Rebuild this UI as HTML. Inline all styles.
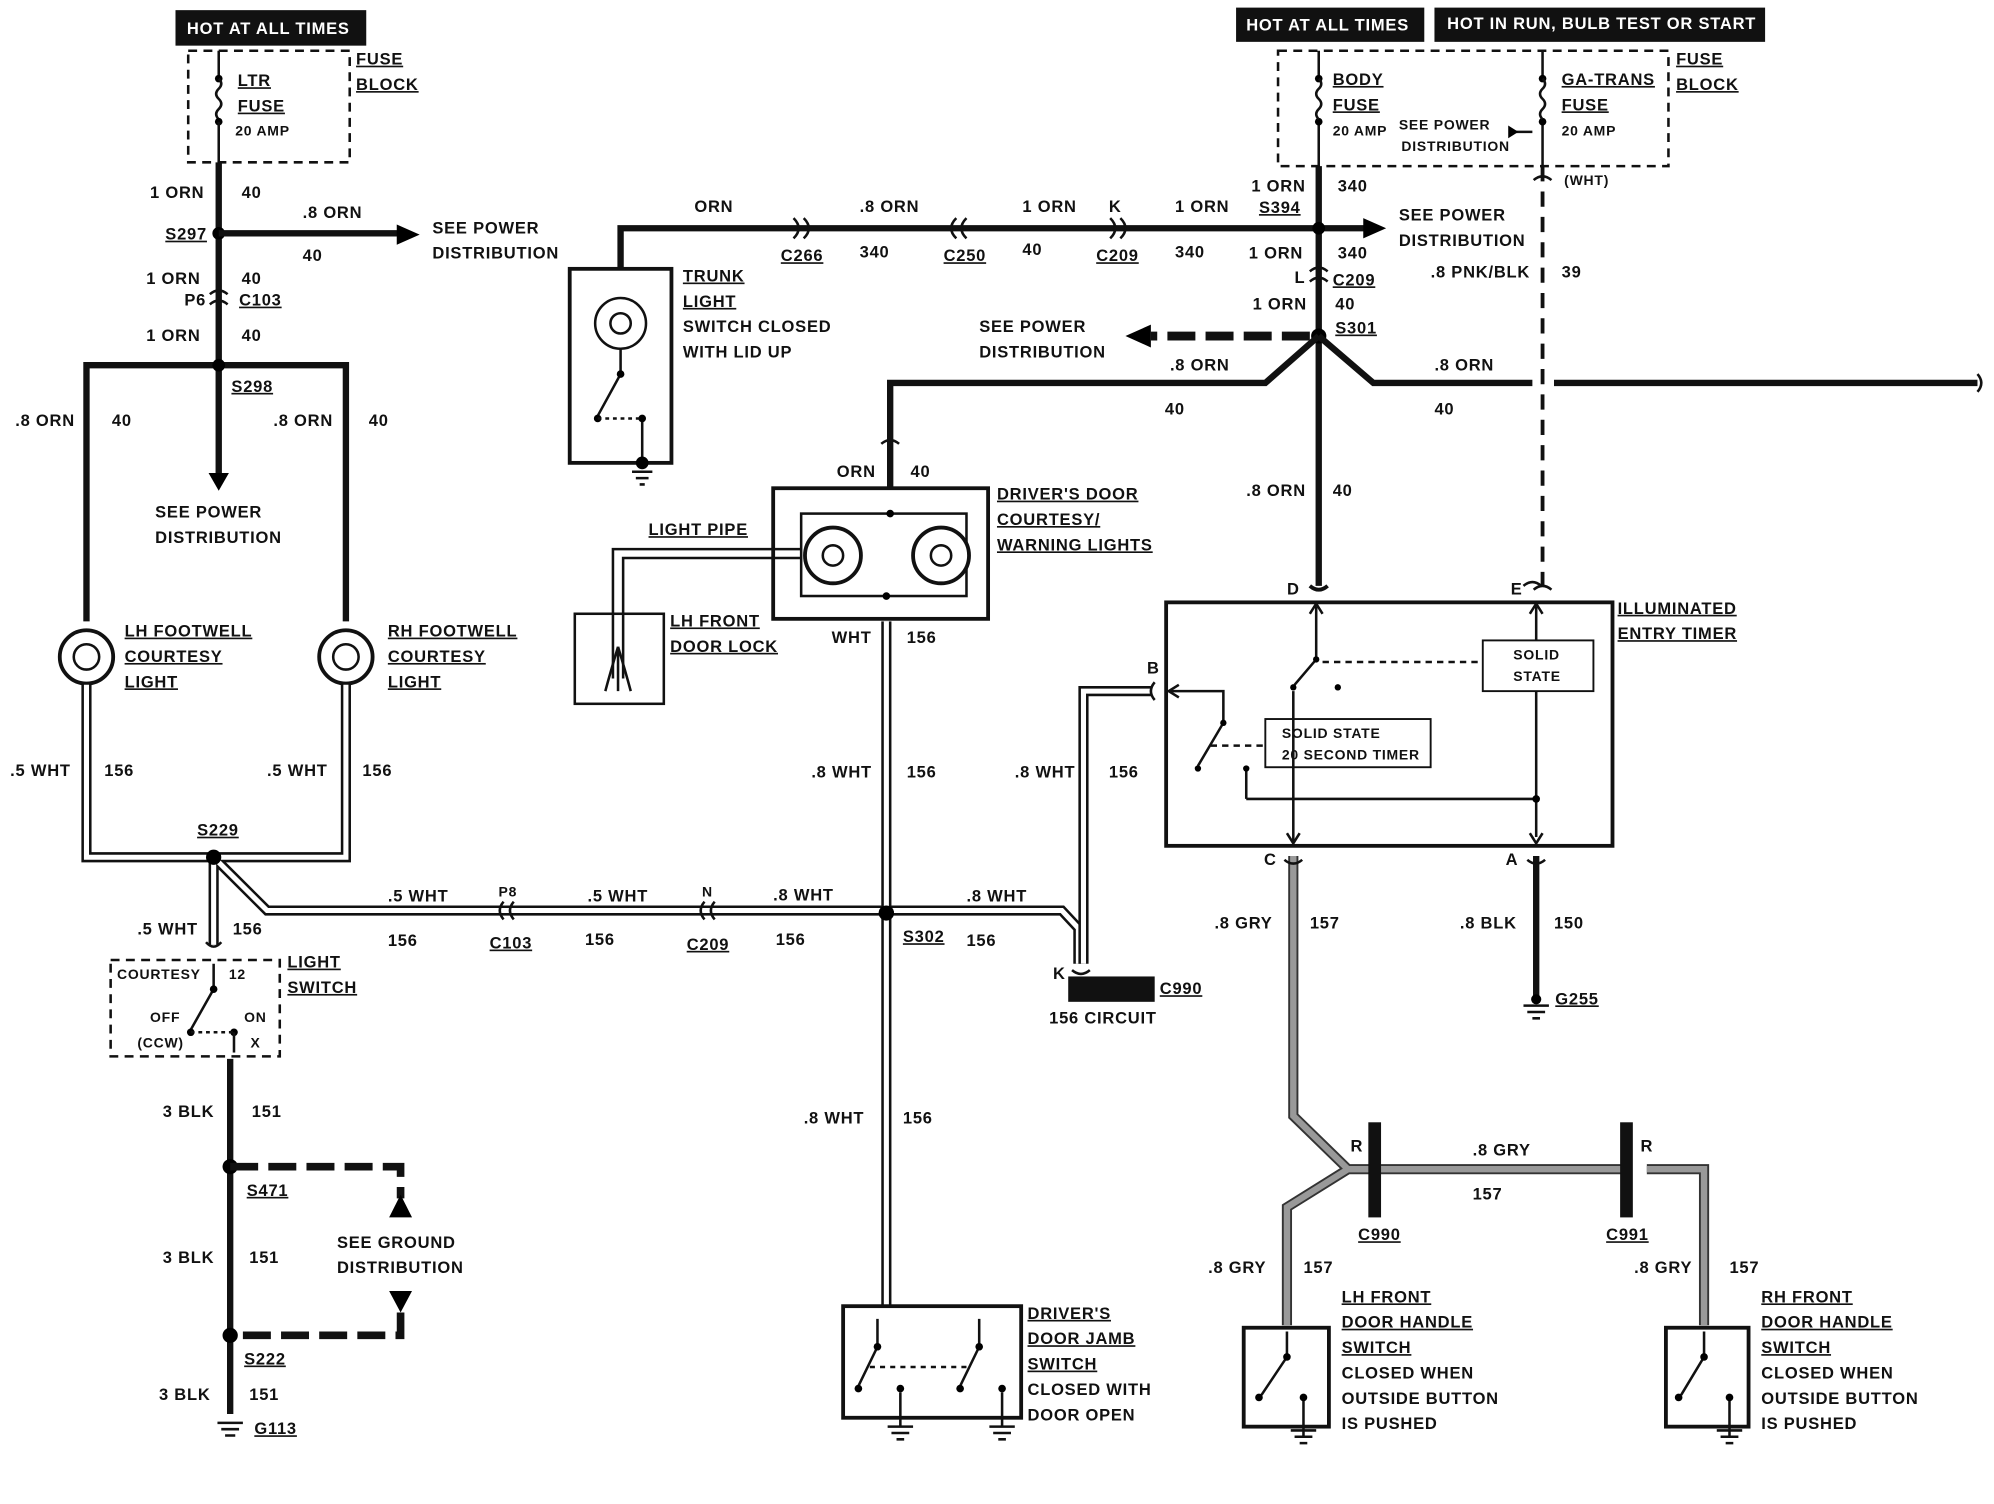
<!DOCTYPE html>
<html><head><meta charset="utf-8">
<style>
html,body{margin:0;padding:0;background:#fff;}
svg{display:block;}
text{font-family:"Liberation Sans",sans-serif;font-weight:bold;font-size:13px;fill:#111;letter-spacing:0.6px;}
.u{text-decoration:underline;}
.k{fill:none;stroke:#111;stroke-width:5;}
.t{fill:none;stroke:#111;stroke-width:2;}
.wb{fill:none;stroke:#111;stroke-width:8;}
.wi{fill:none;stroke:#fff;stroke-width:4;}
.gb{fill:none;stroke:#333;stroke-width:8;}
.gi{fill:none;stroke:#999;stroke-width:5;}
.d{fill:none;stroke:#111;stroke-width:2;stroke-dasharray:7,5;}
.kd{fill:none;stroke:#111;stroke-width:6;stroke-dasharray:22,8;}
.wt{fill:#fff;}
</style></head>
<body>
<svg width="1994" height="1504" viewBox="0 0 1568 1186" preserveAspectRatio="none" xmlns="http://www.w3.org/2000/svg">
<rect width="1568" height="1186" fill="#fff"/>

<!-- LEFT TOP -->
<rect x="138" y="8" width="150" height="28" fill="#111"/>
<text x="147" y="27" class="wt" style="fill:#fff">HOT AT ALL TIMES</text>
<rect x="148" y="40" width="127" height="88" class="d"/>
<text x="280" y="51" class="u">FUSE</text><text x="280" y="71" class="u">BLOCK</text>
<path d="M172 40 V62" class="t"/><circle cx="172" cy="62" r="3"/>
<path d="M172 62 q4 4 0 8 q-4 4 0 8 q4 4 0 8 q-4 4 0 8" class="t"/><circle cx="172" cy="96" r="3"/>
<path d="M172 96 V128" class="t"/>
<text x="187" y="68" class="u">LTR</text><text x="187" y="88" class="u">FUSE</text><text x="185" y="107" style="font-size:11px">20 AMP</text>
<path d="M172 128 V375" class="k"/><path d="M164 373 L180 373 L172 387 Z"/>
<text x="118" y="156">1 ORN</text><text x="190" y="156">40</text>
<circle cx="172" cy="184" r="5"/><path d="M172 184 H315" class="k"/><path d="M312 177 L330 185 L312 193 Z"/>
<text x="130" y="189" class="u">S297</text><text x="238" y="172">.8 ORN</text><text x="238" y="206">40</text>
<text x="340" y="184">SEE POWER</text><text x="340" y="204">DISTRIBUTION</text>
<text x="115" y="224">1 ORN</text><text x="190" y="224">40</text>
<text x="145" y="241">P6</text><path d="M165 232 q7 -6 14 0 M165 240 q7 -6 14 0" class="t"/><text x="188" y="241" class="u">C103</text>
<text x="115" y="269">1 ORN</text><text x="190" y="269">40</text>
<path d="M68 490 V288 H272 V490" class="k"/><circle cx="172" cy="288" r="5"/>
<text x="182" y="309" class="u">S298</text>
<text x="12" y="336">.8 ORN</text><text x="88" y="336">40</text><text x="215" y="336">.8 ORN</text><text x="290" y="336">40</text>
<text x="122" y="408">SEE POWER</text><text x="122" y="428">DISTRIBUTION</text>
<!-- bulbs -->
<circle cx="68" cy="518" r="21" fill="#fff" stroke="#111" stroke-width="3"/><circle cx="68" cy="518" r="10" fill="none" stroke="#111" stroke-width="2"/>
<circle cx="272" cy="518" r="21" fill="#fff" stroke="#111" stroke-width="3"/><circle cx="272" cy="518" r="10" fill="none" stroke="#111" stroke-width="2"/>
<text x="98" y="502" class="u">LH FOOTWELL</text><text x="98" y="522" class="u">COURTESY</text><text x="98" y="542" class="u">LIGHT</text>
<text x="305" y="502" class="u">RH FOOTWELL</text><text x="305" y="522" class="u">COURTESY</text><text x="305" y="542" class="u">LIGHT</text>
<!-- white wires left -->
<path d="M68 540 V676 H272 V540 M168 676 V745 M168 676 L210 718 H835 L848 732 V760" class="wb"/>
<path d="M68 540 V676 H272 V540 M168 676 V745 M168 676 L210 718 H835 L848 732 V760" class="wi"/>
<circle cx="168" cy="676" r="6"/>
<text x="155" y="659" class="u">S229</text>
<text x="8" y="612">.5 WHT</text><text x="82" y="612">156</text><text x="210" y="612">.5 WHT</text><text x="285" y="612">156</text>
<text x="108" y="737">.5 WHT</text><text x="183" y="737">156</text>
<text x="305" y="711">.5 WHT</text><text x="305" y="746">156</text>
<text x="392" y="707" style="font-size:11px">P8</text><path d="M396 711 q-6 7 0 14 M404 711 q-6 7 0 14" class="t"/><text x="385" y="748" class="u">C103</text>
<text x="462" y="711">.5 WHT</text><text x="460" y="745">156</text>
<text x="552" y="707" style="font-size:11px">N</text><path d="M554 711 q-6 7 0 14 M562 711 q-6 7 0 14" class="t"/><text x="540" y="749" class="u">C209</text>
<text x="608" y="710">.8 WHT</text><text x="610" y="745">156</text>
<circle cx="697" cy="720" r="6"/><text x="710" y="743" class="u">S302</text>
<text x="760" y="711">.8 WHT</text><text x="760" y="746">156</text>
<!-- light switch -->
<path d="M162 743 q6 7 12 0" class="t"/>
<rect x="87" y="757" width="133" height="76" class="d"/>
<text x="92" y="772" style="font-size:11px">COURTESY</text><text x="180" y="772" style="font-size:11px">12</text>
<text x="118" y="806" style="font-size:11px">OFF</text><text x="192" y="806" style="font-size:11px">ON</text>
<text x="108" y="826" style="font-size:11px">(CCW)</text><text x="197" y="826" style="font-size:11px">X</text>
<path d="M168 760 V780 M168 780 L150 812" class="t"/><circle cx="168" cy="780" r="3"/><circle cx="150" cy="814" r="3"/><circle cx="184" cy="814" r="3"/>
<path d="M150 814 H184" class="d" style="stroke-dasharray:3,3"/><path d="M184 814 V830" class="t"/>
<text x="226" y="763" class="u">LIGHT</text><text x="226" y="783" class="u">SWITCH</text>
<path d="M181 835 V1115" class="k"/>
<text x="128" y="881">3 BLK</text><text x="198" y="881">151</text>
<circle cx="181" cy="920" r="6"/><text x="194" y="943" class="u">S471</text>
<path d="M181 920 H315 V945" class="kd"/><path d="M306 960 L315 942 L324 960 Z"/>
<text x="265" y="984">SEE GROUND</text><text x="265" y="1004">DISTRIBUTION</text>
<path d="M306 1018 L315 1035 L324 1018 Z"/><path d="M315 1035 V1053 H181" class="kd"/>
<circle cx="181" cy="1053" r="6"/><text x="192" y="1076" class="u">S222</text>
<text x="128" y="996">3 BLK</text><text x="196" y="996">151</text>
<text x="125" y="1104">3 BLK</text><text x="196" y="1104">151</text>
<path d="M171 1122 H191 M174 1127 H188 M177 1132 H185" class="t" stroke-width="3"/>
<text x="200" y="1131" class="u">G113</text>

<!-- TOP MIDDLE -->
<path d="M488 212 V180 H1075" class="k"/><path d="M1072 172 L1090 180 L1072 188 Z"/>
<path d="M624 172 q8 8 0 16 M632 172 q8 8 0 16" class="t" stroke-width="3"/>
<path d="M760 172 q-8 8 0 16 M752 172 q-8 8 0 16" class="t" stroke-width="3"/>
<path d="M873 172 q8 8 0 16 M881 172 q8 8 0 16" class="t" stroke-width="3"/>
<text x="546" y="167">ORN</text><text x="676" y="167">.8 ORN</text><text x="804" y="167">1 ORN</text><text x="872" y="167">K</text><text x="924" y="167">1 ORN</text>
<text x="614" y="206" class="u">C266</text><text x="676" y="203">340</text><text x="742" y="206" class="u">C250</text><text x="804" y="201">40</text><text x="862" y="206" class="u">C209</text><text x="924" y="203">340</text>
<rect x="448" y="212" width="80" height="153" fill="none" stroke="#111" stroke-width="3"/>
<circle cx="488" cy="255" r="20" fill="none" stroke="#111" stroke-width="2"/><circle cx="488" cy="255" r="8" fill="none" stroke="#111" stroke-width="2"/>
<path d="M488 275 V295 L470 328 M505 330 V362" class="t"/><circle cx="488" cy="295" r="3"/><circle cx="470" cy="330" r="3"/><circle cx="505" cy="330" r="3"/><path d="M470 330 H505" class="t" stroke-dasharray="3,3"/>
<circle cx="505" cy="365" r="5"/><path d="M497 372 H513 M500 377 H510 M503 382 H507" class="t"/>
<text x="537" y="222" class="u">TRUNK</text><text x="537" y="242" class="u">LIGHT</text><text x="537" y="262">SWITCH CLOSED</text><text x="537" y="282">WITH LID UP</text>

<!-- RIGHT TOP -->
<rect x="972" y="6" width="148" height="27" fill="#111"/><text x="980" y="24" style="fill:#fff">HOT AT ALL TIMES</text>
<rect x="1128" y="6" width="260" height="27" fill="#111"/><text x="1138" y="23" style="fill:#fff">HOT IN RUN, BULB TEST OR START</text>
<rect x="1005" y="40" width="307" height="91" class="d"/>
<text x="1318" y="51" class="u">FUSE</text><text x="1318" y="71" class="u">BLOCK</text>
<path d="M1037 40 V62 M1037 96 V131 M1213 40 V62 M1213 96 V131" class="t"/>
<circle cx="1037" cy="62" r="3"/><circle cx="1037" cy="96" r="3"/><circle cx="1213" cy="62" r="3"/><circle cx="1213" cy="96" r="3"/>
<path d="M1037 62 q4 4 0 8 q-4 4 0 8 q4 4 0 8 q-4 4 0 8 M1213 62 q4 4 0 8 q-4 4 0 8 q4 4 0 8 q-4 4 0 8" class="t"/>
<text x="1048" y="67" class="u">BODY</text><text x="1048" y="87" class="u">FUSE</text><text x="1048" y="107" style="font-size:11px">20 AMP</text>
<text x="1228" y="67" class="u">GA-TRANS</text><text x="1228" y="87" class="u">FUSE</text><text x="1228" y="107" style="font-size:11px">20 AMP</text>
<text x="1100" y="102" style="font-size:11px">SEE POWER</text><text x="1102" y="119" style="font-size:11px">DISTRIBUTION</text>
<path d="M1187 104 H1205" class="t"/><path d="M1186 99 L1194 104 L1186 109 Z"/>
<path d="M1037 131 V462" class="k"/>
<text x="984" y="151">1 ORN</text><text x="1052" y="151">340</text><text x="990" y="168" class="u">S394</text>
<circle cx="1037" cy="180" r="5"/>
<text x="1100" y="174">SEE POWER</text><text x="1100" y="194">DISTRIBUTION</text>
<text x="982" y="204">1 ORN</text><text x="1052" y="204">340</text>
<text x="1018" y="223">L</text><path d="M1030 214 q7 -6 14 0 M1030 222 q7 -6 14 0" class="t"/><text x="1048" y="225" class="u">C209</text>
<text x="985" y="244">1 ORN</text><text x="1050" y="244">40</text>
<circle cx="1037" cy="265" r="6"/><text x="1050" y="263" class="u">S301</text>
<path d="M1030 265 H905" class="kd" style="stroke-width:7"/><path d="M905 256 L885 265 L905 274 Z"/>
<text x="770" y="262">SEE POWER</text><text x="770" y="282">DISTRIBUTION</text>
<path d="M1037 265 L995 302 H700 V385" class="k"/>
<path d="M1037 265 L1080 302 H1205 M1222 302 H1555" class="k"/>
<path d="M1555 295 q6 7 0 14" class="t"/>
<text x="920" y="292">.8 ORN</text><text x="916" y="327">40</text><text x="1128" y="292">.8 ORN</text><text x="1128" y="327">40</text>
<text x="980" y="391">.8 ORN</text><text x="1048" y="391">40</text>
<text x="1230" y="146" style="font-size:11px">(WHT)</text><text x="1125" y="219">.8 PNK/BLK</text><text x="1228" y="219">39</text>
<path d="M1213 131 V462" class="d" style="stroke-width:3;stroke-dasharray:12,8"/>
<path d="M1206 142 q7 -6 14 0" class="t"/><path d="M1206 465 q7 -6 14 0" class="t"/>
<text x="658" y="376">ORN</text><text x="716" y="376">40</text>
<path d="M693 350 q7 -6 14 0" class="t"/>

<!-- driver's door lights -->
<rect x="608" y="385" width="169" height="103" fill="none" stroke="#111" stroke-width="3"/>
<rect x="630" y="405" width="130" height="65" fill="none" stroke="#111" stroke-width="2"/>
<circle cx="700" cy="405" r="3"/><circle cx="697" cy="470" r="3"/>
<circle cx="655" cy="438" r="22" fill="#fff" stroke="#111" stroke-width="3"/><circle cx="655" cy="438" r="8" fill="none" stroke="#111" stroke-width="2"/>
<circle cx="740" cy="438" r="22" fill="#fff" stroke="#111" stroke-width="3"/><circle cx="740" cy="438" r="8" fill="none" stroke="#111" stroke-width="2"/>
<text x="784" y="394" class="u">DRIVER'S DOOR</text><text x="784" y="414" class="u">COURTESY/</text><text x="784" y="434" class="u">WARNING LIGHTS</text>
<text x="510" y="422" class="u">LIGHT PIPE</text>
<path d="M630 433 H482 V535 M630 440 H490 V535" class="t" stroke-width="1.5"/>
<rect x="452" y="484" width="70" height="71" fill="none" stroke="#111" stroke-width="2"/>
<path d="M486 510 q-6 20 -10 35 M486 510 V545 M486 510 q6 20 10 35" class="t" stroke-width="1.5"/>
<text x="527" y="494" class="u">LH FRONT</text><text x="527" y="514" class="u">DOOR LOCK</text>
<text x="654" y="507">WHT</text><text x="713" y="507">156</text>
<path d="M697 490 V1030" class="wb"/><path d="M697 490 V1030" class="wi"/>
<circle cx="697" cy="720" r="6"/>
<text x="638" y="613">.8 WHT</text><text x="713" y="613">156</text>
<text x="632" y="886">.8 WHT</text><text x="710" y="886">156</text>
<!-- door jamb switch -->
<rect x="663" y="1030" width="140" height="88" fill="none" stroke="#111" stroke-width="3"/>
<path d="M690 1040 V1062 L675 1093 M770 1040 V1062 L755 1093 M708 1098 V1125 M788 1098 V1125" class="t"/>
<circle cx="690" cy="1062" r="3"/><circle cx="675" cy="1095" r="3"/><circle cx="708" cy="1095" r="3"/>
<circle cx="770" cy="1062" r="3"/><circle cx="755" cy="1095" r="3"/><circle cx="788" cy="1095" r="3"/>
<path d="M684 1078 H762" class="t" stroke-dasharray="4,4"/>
<path d="M698 1125 H718 M701 1130 H715 M705 1135 H711 M778 1125 H798 M781 1130 H795 M785 1135 H791" class="t" stroke-width="2.5"/>
<text x="808" y="1040" class="u">DRIVER'S</text><text x="808" y="1060" class="u">DOOR JAMB</text><text x="808" y="1080" class="u">SWITCH</text><text x="808" y="1100">CLOSED WITH</text><text x="808" y="1120">DOOR OPEN</text>

<!-- timer -->
<rect x="917" y="475" width="351" height="192" fill="none" stroke="#111" stroke-width="3"/>
<text x="1012" y="469">D</text><text x="1188" y="469">E</text><text x="902" y="531">B</text><text x="994" y="682">C</text><text x="1184" y="682">A</text>
<text x="1272" y="484" class="u">ILLUMINATED</text><text x="1272" y="504" class="u">ENTRY TIMER</text>
<rect x="1166" y="505" width="87" height="40" fill="none" stroke="#111" stroke-width="1.5"/>
<text x="1190" y="520" style="font-size:11px">SOLID</text><text x="1190" y="537" style="font-size:11px">STATE</text>
<rect x="995" y="567" width="130" height="38" fill="none" stroke="#111" stroke-width="1.5"/>
<text x="1008" y="582" style="font-size:11px">SOLID STATE</text><text x="1008" y="599" style="font-size:11px">20 SECOND TIMER</text>
<path d="M1035 478 V520 L1018 540 M1208 478 V505 M1208 545 V660 M1017 545 V665 M980 630 H1208 M962 565 V570 L942 604 M980 607 V630 M920 545 H962 V565" class="t" stroke-width="1.5"/>
<path d="M1030 484 L1035 476 L1040 484 M1203 484 L1208 476 L1213 484 M1012 657 L1017 665 L1022 657 M1203 657 L1208 665 L1213 657 M927 540 L919 545 L927 550" class="t" stroke-width="1.5"/>
<circle cx="1035" cy="520" r="2.5"/><circle cx="1017" cy="542" r="2.5"/><circle cx="1052" cy="542" r="2.5"/><circle cx="1208" cy="630" r="3"/>
<circle cx="962" cy="570" r="2.5"/><circle cx="942" cy="606" r="2.5"/><circle cx="980" cy="606" r="2.5"/>
<path d="M1040 522 H1166" class="t" stroke-dasharray="5,4" stroke-width="1.5"/>
<path d="M952 588 H995" class="t" stroke-dasharray="5,4" stroke-width="1.5"/>
<path d="M1212 462 q-7 -6 -14 0" class="t"/>
<path d="M1030 462 q7 6 14 0" class="k" style="stroke-width:3"/>
<!-- B wire -->
<path d="M905 545 H852 V760" class="wb"/><path d="M905 545 H852 V760" class="wi"/>
<path d="M908 538 q-6 7 0 14" class="t"/>
<text x="798" y="613">.8 WHT</text><text x="872" y="613">156</text>
<rect x="840" y="770" width="68" height="20" fill="#111"/>
<text x="828" y="772">K</text><text x="912" y="784" class="u">C990</text><text x="825" y="807">156 CIRCUIT</text>
<path d="M843 765 q7 6 14 0" class="t"/>
<!-- gray -->
<path d="M1017 675 V880 L1060 922 H1280 M1060 922 L1012 952 V1045 M1295 922 H1340 V1045" class="gb"/>
<path d="M1017 675 V880 L1060 922 H1280 M1060 922 L1012 952 V1045 M1295 922 H1340 V1045" class="gi"/>
<path d="M1010 678 q7 6 14 0" class="t"/>
<text x="955" y="732">.8 GRY</text><text x="1030" y="732">157</text>
<rect x="1076" y="885" width="10" height="75" fill="#111"/><rect x="1274" y="885" width="10" height="75" fill="#111"/>
<text x="1062" y="908">R</text><text x="1290" y="908">R</text>
<text x="1068" y="978" class="u">C990</text><text x="1263" y="978" class="u">C991</text>
<text x="1158" y="911">.8 GRY</text><text x="1158" y="946">157</text>
<text x="950" y="1004">.8 GRY</text><text x="1025" y="1004">157</text><text x="1285" y="1004">.8 GRY</text><text x="1360" y="1004">157</text>
<path d="M1208 675 V785" class="k"/><path d="M1201 678 q7 6 14 0" class="t"/>
<text x="1148" y="732">.8 BLK</text><text x="1222" y="732">150</text>
<circle cx="1208" cy="788" r="4"/><path d="M1198 793 H1218 M1201 798 H1215 M1205 803 H1211" class="t" stroke-width="2.5"/>
<text x="1223" y="792" class="u">G255</text>
<!-- LH/RH front switches -->
<rect x="978" y="1047" width="67" height="78" fill="none" stroke="#111" stroke-width="3"/>
<path d="M1012 1050 V1070 L992 1100 M1025 1103 V1132" class="t"/><circle cx="1012" cy="1070" r="3"/><circle cx="990" cy="1102" r="3"/><circle cx="1025" cy="1102" r="3"/>
<path d="M1015 1128 H1035 M1018 1133 H1032 M1022 1138 H1028" class="t" stroke-width="2.5"/>
<text x="1055" y="1027" class="u">LH FRONT</text><text x="1055" y="1047" class="u">DOOR HANDLE</text><text x="1055" y="1067" class="u">SWITCH</text><text x="1055" y="1087">CLOSED WHEN</text><text x="1055" y="1107">OUTSIDE BUTTON</text><text x="1055" y="1127">IS PUSHED</text>
<rect x="1310" y="1047" width="65" height="78" fill="none" stroke="#111" stroke-width="3"/>
<path d="M1340 1050 V1070 L1322 1100 M1360 1103 V1132" class="t"/><circle cx="1340" cy="1070" r="3"/><circle cx="1320" cy="1102" r="3"/><circle cx="1360" cy="1102" r="3"/>
<path d="M1350 1128 H1370 M1353 1133 H1367 M1357 1138 H1363" class="t" stroke-width="2.5"/>
<text x="1385" y="1027" class="u">RH FRONT</text><text x="1385" y="1047" class="u">DOOR HANDLE</text><text x="1385" y="1067" class="u">SWITCH</text><text x="1385" y="1087">CLOSED WHEN</text><text x="1385" y="1107">OUTSIDE BUTTON</text><text x="1385" y="1127">IS PUSHED</text>
</svg>
</body></html>
